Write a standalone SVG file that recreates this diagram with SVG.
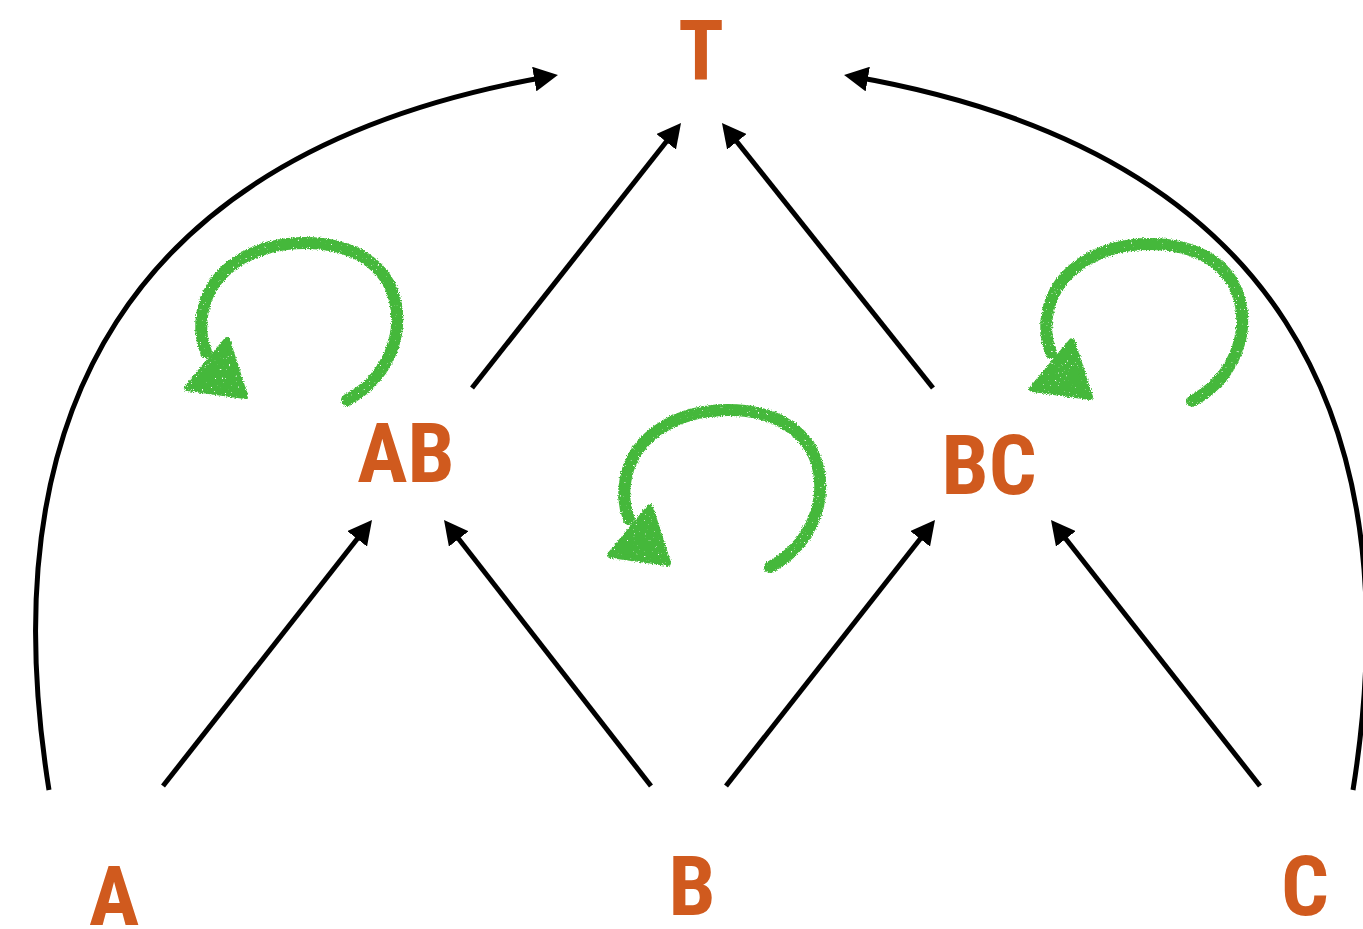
<svg xmlns="http://www.w3.org/2000/svg" xmlns:xlink="http://www.w3.org/1999/xlink" width="1363" height="929" viewBox="0 0 1363 929">
  <style>
    .label { font-family: "Roboto Condensed", "Liberation Sans Narrow", "DejaVu Sans Condensed", "Liberation Sans", sans-serif; font-weight: bold; font-size: 84px; fill: #D05A1E; text-anchor: middle; }
    .edge { fill: none; stroke: #000; stroke-width: 5; marker-end: url(#head); }
    .loop-line { fill: none; stroke: #45B83A; stroke-width: 12; stroke-linecap: round; }
    .loop-head { fill: #45B83A; stroke: #45B83A; stroke-width: 6; stroke-linejoin: round; }
  </style>
  <defs>
    <marker id="head" viewBox="0 0 24 25" refX="18" refY="12.5" markerWidth="24" markerHeight="25" markerUnits="userSpaceOnUse" orient="auto">
      <path d="M0,0 L24,12.5 L0,25 z" fill="#000"/>
    </marker>
    <!-- grainy crayon texture for the green loops -->
    <filter id="crayon" x="-10%" y="-10%" width="120%" height="120%">
      <feTurbulence type="fractalNoise" baseFrequency="0.8" numOctaves="2" seed="4" result="n"/>
      <feDisplacementMap in="SourceGraphic" in2="n" scale="4" xChannelSelector="R" yChannelSelector="G" result="d"/>
      <feTurbulence type="fractalNoise" baseFrequency="0.45" numOctaves="2" seed="11" result="n2"/>
      <feColorMatrix in="n2" type="matrix" values="0 0 0 0 0  0 0 0 0 0  0 0 0 0 0  0 0 0 -10 8.2" result="holes"/>
      <feComposite in="d" in2="holes" operator="in"/>
    </filter>
    <g id="loop">
      <path class="loop-line" d="M347,400 C385,380 402,340 396,305 C388,262 350,243 305,243 C255,243 212,268 203,310 C199,328 202,342 206,352"/>
      <path class="loop-head" d="M227,340 L187,388 L245,396 z"/>
    </g>
  </defs>

  <g id="connectors">
    <path class="edge" d="M163,786 L368.3,524.7"/>
    <path class="edge" d="M651,786 L447.7,524.7"/>
    <path class="edge" d="M726,786 L931.3,524.7"/>
    <path class="edge" d="M1260,786 L1054.7,524.7"/>
    <path class="edge" d="M472,388 L677.3,127.7"/>
    <path class="edge" d="M933,388 L725.7,127.7"/>
    <path class="edge" d="M49,790 C-10,420 120,150 552,76"/>
    <path class="edge" d="M1353,790 C1412,420 1282,150 850,76"/>
  </g>

  <g id="cycles" filter="url(#crayon)">
    <use xlink:href="#loop"/>
    <use xlink:href="#loop" transform="translate(423,167)"/>
    <use xlink:href="#loop" transform="translate(845,1)"/>
  </g>

  <g id="node-T"><text class="label" x="701" y="80">T</text></g>
  <g id="node-AB"><text class="label" x="406" y="482">AB</text></g>
  <g id="node-BC"><text class="label" x="989" y="494">BC</text></g>
  <g id="node-A"><text class="label" x="114" y="925">A</text></g>
  <g id="node-B"><text class="label" x="692" y="915">B</text></g>
  <g id="node-C"><text class="label" x="1305" y="915">C</text></g>
</svg>
